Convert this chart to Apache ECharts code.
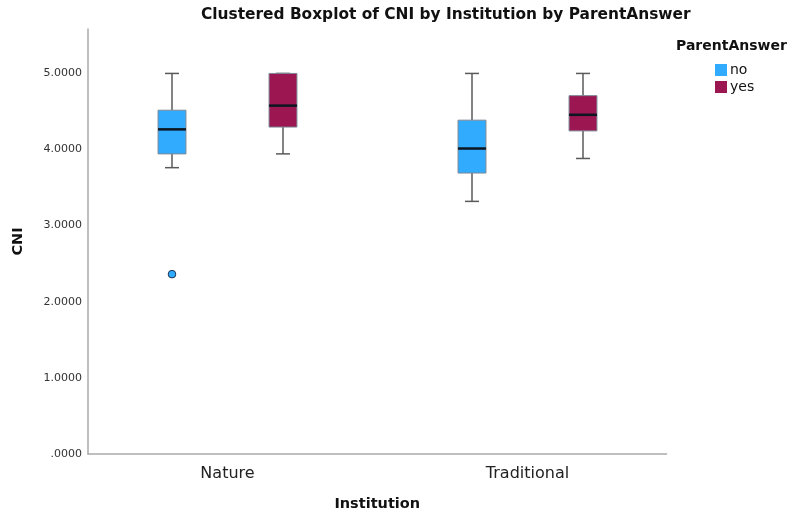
<!DOCTYPE html>
<html>
<head>
<meta charset="utf-8">
<script src="https://cdn.jsdelivr.net/npm/echarts@6/dist/echarts.min.js"></script>
<style>
  html, body { margin: 0; padding: 0; background: #fff; }
  #chart { width: 796px; height: 517px; }
</style>
</head>
<body>
<div id="chart"></div>
<script>
// Institution categories and the two ParentAnswer groups
const institutions = ['Nature', 'Traditional'];
const groupNames = ['no', 'yes'];

// Five-number summaries per institution: [min, Q1, median, Q3, max]
const noStats = [
  [3.77, 3.95, 4.27, 4.52, 5.00],
  [3.33, 3.70, 4.02, 4.39, 5.00]
];
const yesStats = [
  [3.95, 4.30, 4.58, 5.00, 5.00],
  [3.89, 4.25, 4.46, 4.71, 5.00]
];

// Outliers: [institution index, value]
const noOutliers = [[0, 2.38]];
const yesOutliers = [];

// Y axis tick values
const yTicks = [0, 1, 2, 3, 4, 5];
const yMax = 5.58;

const colors = { no: '#31abfe', yes: '#9c1651' };
const FONT = 'DejaVu Sans';

// Box drawing through the category/value scales; offset is a share of the band
function boxRenderer(offsetFrac, fill) {
  return function (params, api) {
    const cat = api.value(0);
    const band = api.size([1, 0])[0];
    const cx = api.coord([cat, 0])[0] + offsetFrac * band;
    const py = v => api.coord([cat, v])[1];
    const lo = py(api.value(1)), q1 = py(api.value(2)), med = py(api.value(3));
    const q3 = py(api.value(4)), hi = py(api.value(5));
    const bw = band * 0.093;
    const cap = bw / 2;
    const whisker = { stroke: '#5a5a5a', lineWidth: 1.5 };
    return {
      type: 'group',
      children: [
        { type: 'line', shape: { x1: cx, y1: hi, x2: cx, y2: q3 }, style: whisker },
        { type: 'line', shape: { x1: cx, y1: q1, x2: cx, y2: lo }, style: whisker },
        { type: 'line', shape: { x1: cx - cap / 2, y1: hi, x2: cx + cap / 2, y2: hi }, style: whisker },
        { type: 'line', shape: { x1: cx - cap / 2, y1: lo, x2: cx + cap / 2, y2: lo }, style: whisker },
        { type: 'rect', shape: { x: cx - bw / 2, y: q3, width: bw, height: q1 - q3 },
          style: { fill: fill, stroke: '#7d8894', lineWidth: 1 } },
        { type: 'line', shape: { x1: cx - bw / 2, y1: med, x2: cx + bw / 2, y2: med },
          style: { stroke: '#0b1620', lineWidth: 2.5 } }
      ]
    };
  };
}

function outlierRenderer(offsetFrac, fill) {
  return function (params, api) {
    const cat = api.value(0);
    const band = api.size([1, 0])[0];
    const p = api.coord([cat, api.value(1)]);
    return {
      type: 'circle',
      shape: { cx: p[0] + offsetFrac * band, cy: p[1], r: 3.8 },
      style: { fill: fill, stroke: '#1c3550', lineWidth: 1 }
    };
  };
}

const boxData = stats => stats.map((s, i) => [i].concat(s));

const chart = echarts.init(document.getElementById('chart'));
chart.setOption({
  animation: false,
  backgroundColor: '#fff',
  title: [
    {
      text: 'Clustered Boxplot of CNI by Institution by ParentAnswer',
      left: 201, top: 7, padding: 0,
      textStyle: { fontFamily: FONT, fontWeight: 'bold', fontSize: 15.4, color: '#111' }
    },
    {
      text: 'ParentAnswer',
      left: 676, top: 39, padding: 0,
      textStyle: { fontFamily: FONT, fontWeight: 'bold', fontSize: 14, color: '#111' }
    }
  ],
  legend: {
    data: groupNames.map(n => ({ name: n, icon: 'rect' })),
    orient: 'vertical',
    left: 715, top: 63, padding: 0,
    itemWidth: 12, itemHeight: 12, itemGap: 3,
    textStyle: { fontFamily: FONT, fontSize: 14, color: '#111', padding: [0, 0, 0, -2] }
  },
  grid: [
    // grid holding the axis lines and value labels
    { left: 88, right: 129.5, top: 29, bottom: 60.5, containLabel: false },
    // grid holding the boxes and category labels
    { left: 77.5, right: 118.5, top: 29, bottom: 60.5, containLabel: false }
  ],
  xAxis: [
    {
      gridIndex: 0, type: 'category', data: institutions,
      name: 'Institution', nameLocation: 'middle', nameGap: 43,
      nameTextStyle: { fontFamily: FONT, fontWeight: 'bold', fontSize: 14.5, color: '#111' },
      axisLine: { lineStyle: { color: '#aaa', width: 1.5 } },
      axisTick: { show: false }, axisLabel: { show: false }
    },
    {
      gridIndex: 1, type: 'category', data: institutions,
      axisLine: { show: false }, axisTick: { show: false },
      axisLabel: { fontFamily: FONT, fontSize: 16, color: '#222', margin: 9 }
    }
  ],
  yAxis: [
    {
      gridIndex: 0, type: 'value', min: 0, max: yMax, interval: 1,
      name: 'CNI', nameLocation: 'middle', nameGap: 62, nameRotate: 90,
      nameTextStyle: { fontFamily: FONT, fontWeight: 'bold', fontSize: 14.5, color: '#111' },
      axisLine: { show: true, lineStyle: { color: '#aaa', width: 1.5 } },
      axisTick: { show: false },
      splitLine: { show: false },
      axisLabel: {
        fontFamily: FONT, fontSize: 11, color: '#333', margin: 6,
        showMaxLabel: false,
        formatter: v => yTicks.includes(v) ? (v === 0 ? '.0000' : v.toFixed(4)) : ''
      }
    },
    {
      gridIndex: 1, type: 'value', min: 0, max: yMax, interval: 1,
      axisLine: { show: false }, axisTick: { show: false },
      axisLabel: { show: false }, splitLine: { show: false }
    }
  ],
  series: [
    {
      name: 'no', type: 'custom', xAxisIndex: 1, yAxisIndex: 1,
      itemStyle: { color: colors.no },
      encode: { x: 0, y: [1, 2, 3, 4, 5] },
      renderItem: boxRenderer(-0.185, colors.no),
      data: boxData(noStats)
    },
    {
      name: 'yes', type: 'custom', xAxisIndex: 1, yAxisIndex: 1,
      itemStyle: { color: colors.yes },
      encode: { x: 0, y: [1, 2, 3, 4, 5] },
      renderItem: boxRenderer(0.185, colors.yes),
      data: boxData(yesStats)
    },
    {
      name: 'no', type: 'custom', xAxisIndex: 1, yAxisIndex: 1,
      itemStyle: { color: colors.no },
      encode: { x: 0, y: 1 },
      renderItem: outlierRenderer(-0.185, colors.no),
      data: noOutliers
    },
    {
      name: 'yes', type: 'custom', xAxisIndex: 1, yAxisIndex: 1,
      itemStyle: { color: colors.yes },
      encode: { x: 0, y: 1 },
      renderItem: outlierRenderer(0.185, colors.yes),
      data: yesOutliers
    }
  ]
});
</script>
</body>
</html>
